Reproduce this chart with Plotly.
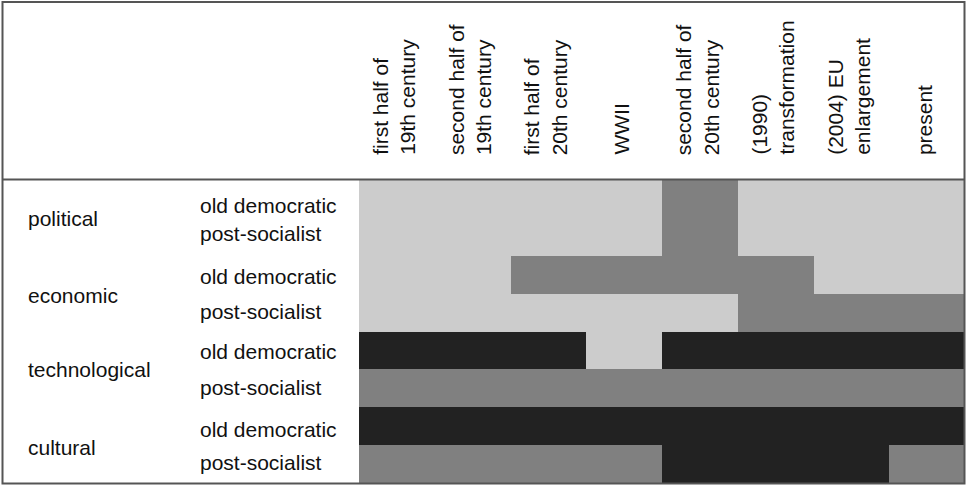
import plotly.graph_objects as go

W, H = 966, 486

periods = [
    "first half of<br>19th century",
    "second half of<br>19th century",
    "first half of<br>20th century",
    "WWII",
    "second half of<br>20th century",
    "(1990)<br>transformation",
    "(2004) EU<br>enlargement",
    "present",
]
groups = ["political", "economic", "technological", "cultural"]
subgroups = ["old democratic", "post-socialist"]

# intensity level: 1 = light, 2 = medium, 3 = dark
political_old = [1, 1, 1, 1, 2, 1, 1, 1]
political_post = [1, 1, 1, 1, 2, 1, 1, 1]
economic_old = [1, 1, 2, 2, 2, 2, 1, 1]
economic_post = [1, 1, 1, 1, 1, 2, 2, 2]
technological_old = [3, 3, 3, 1, 3, 3, 3, 3]
technological_post = [2, 2, 2, 2, 2, 2, 2, 2]
cultural_old = [3, 3, 3, 3, 3, 3, 3, 3]
cultural_post = [2, 2, 2, 2, 3, 3, 3, 2]

z = [political_old, political_post, economic_old, economic_post,
     technological_old, technological_post, cultural_old, cultural_post]

# layout in pixels
X0, X1 = 359, 965
Y0, Y1 = 180, 483


def px(x):
    return x / W


def py(y):
    return 1 - y / H


fig = go.Figure()
fig.add_trace(go.Heatmap(
    z=z,
    x=list(range(len(periods))),
    y=list(range(len(z))),
    zmin=1, zmax=3,
    colorscale=[[0, "#cccccc"], [0.5, "#808080"], [1, "#222222"]],
    showscale=False,
    hoverinfo="skip",
))

fig.update_layout(
    width=W, height=H,
    margin=dict(l=0, r=0, t=0, b=0),
    paper_bgcolor="white", plot_bgcolor="white",
    font=dict(family="Liberation Sans, Arial, sans-serif", size=21, color="#111111"),
    xaxis=dict(domain=[px(X0), px(X1)], range=[-0.5, len(periods) - 0.5],
               visible=False, fixedrange=True),
    yaxis=dict(domain=[py(Y1), py(Y0)], range=[len(z) - 0.5, -0.5],
               visible=False, fixedrange=True),
    showlegend=False,
)

annotations = []
# column headers (rotated)
for i, p in enumerate(periods):
    annotations.append(dict(
        x=i - 0.04, xref="x", xanchor="center",
        y=py(157), yref="paper", yanchor="bottom",
        text=p, textangle=-90, showarrow=False, align="left",
        font=dict(size=21),
    ))

group_y = [218, 295, 369, 447]
sub_y = [(206, 233), (276, 311), (351, 387), (429, 462)]
for g, gy, (oy, ps) in zip(groups, group_y, sub_y):
    annotations.append(dict(x=px(26), xref="paper", xanchor="left",
                            y=py(gy), yref="paper", yanchor="middle",
                            text=g, showarrow=False))
    for s, sy in zip(subgroups, (oy, ps)):
        annotations.append(dict(x=px(198), xref="paper", xanchor="left",
                                y=py(sy), yref="paper", yanchor="middle",
                                text=s, showarrow=False))
fig.update_layout(annotations=annotations)

shapes = [
    dict(type="rect", xref="paper", yref="paper",
         x0=px(2.5), x1=px(964.5), y0=py(483.5), y1=py(2),
         line=dict(color="#555555", width=2), fillcolor="rgba(0,0,0,0)", layer="above"),
    dict(type="line", xref="paper", yref="paper",
         x0=px(2.5), x1=px(964.5), y0=py(179.5), y1=py(179.5),
         line=dict(color="#555555", width=2), layer="above"),
]
fig.update_layout(shapes=shapes)

fig.write_html(
    "out.html",
    config={"displayModeBar": False},
    post_script="document.body.style.margin='0';document.body.style.overflow='hidden';",
)
